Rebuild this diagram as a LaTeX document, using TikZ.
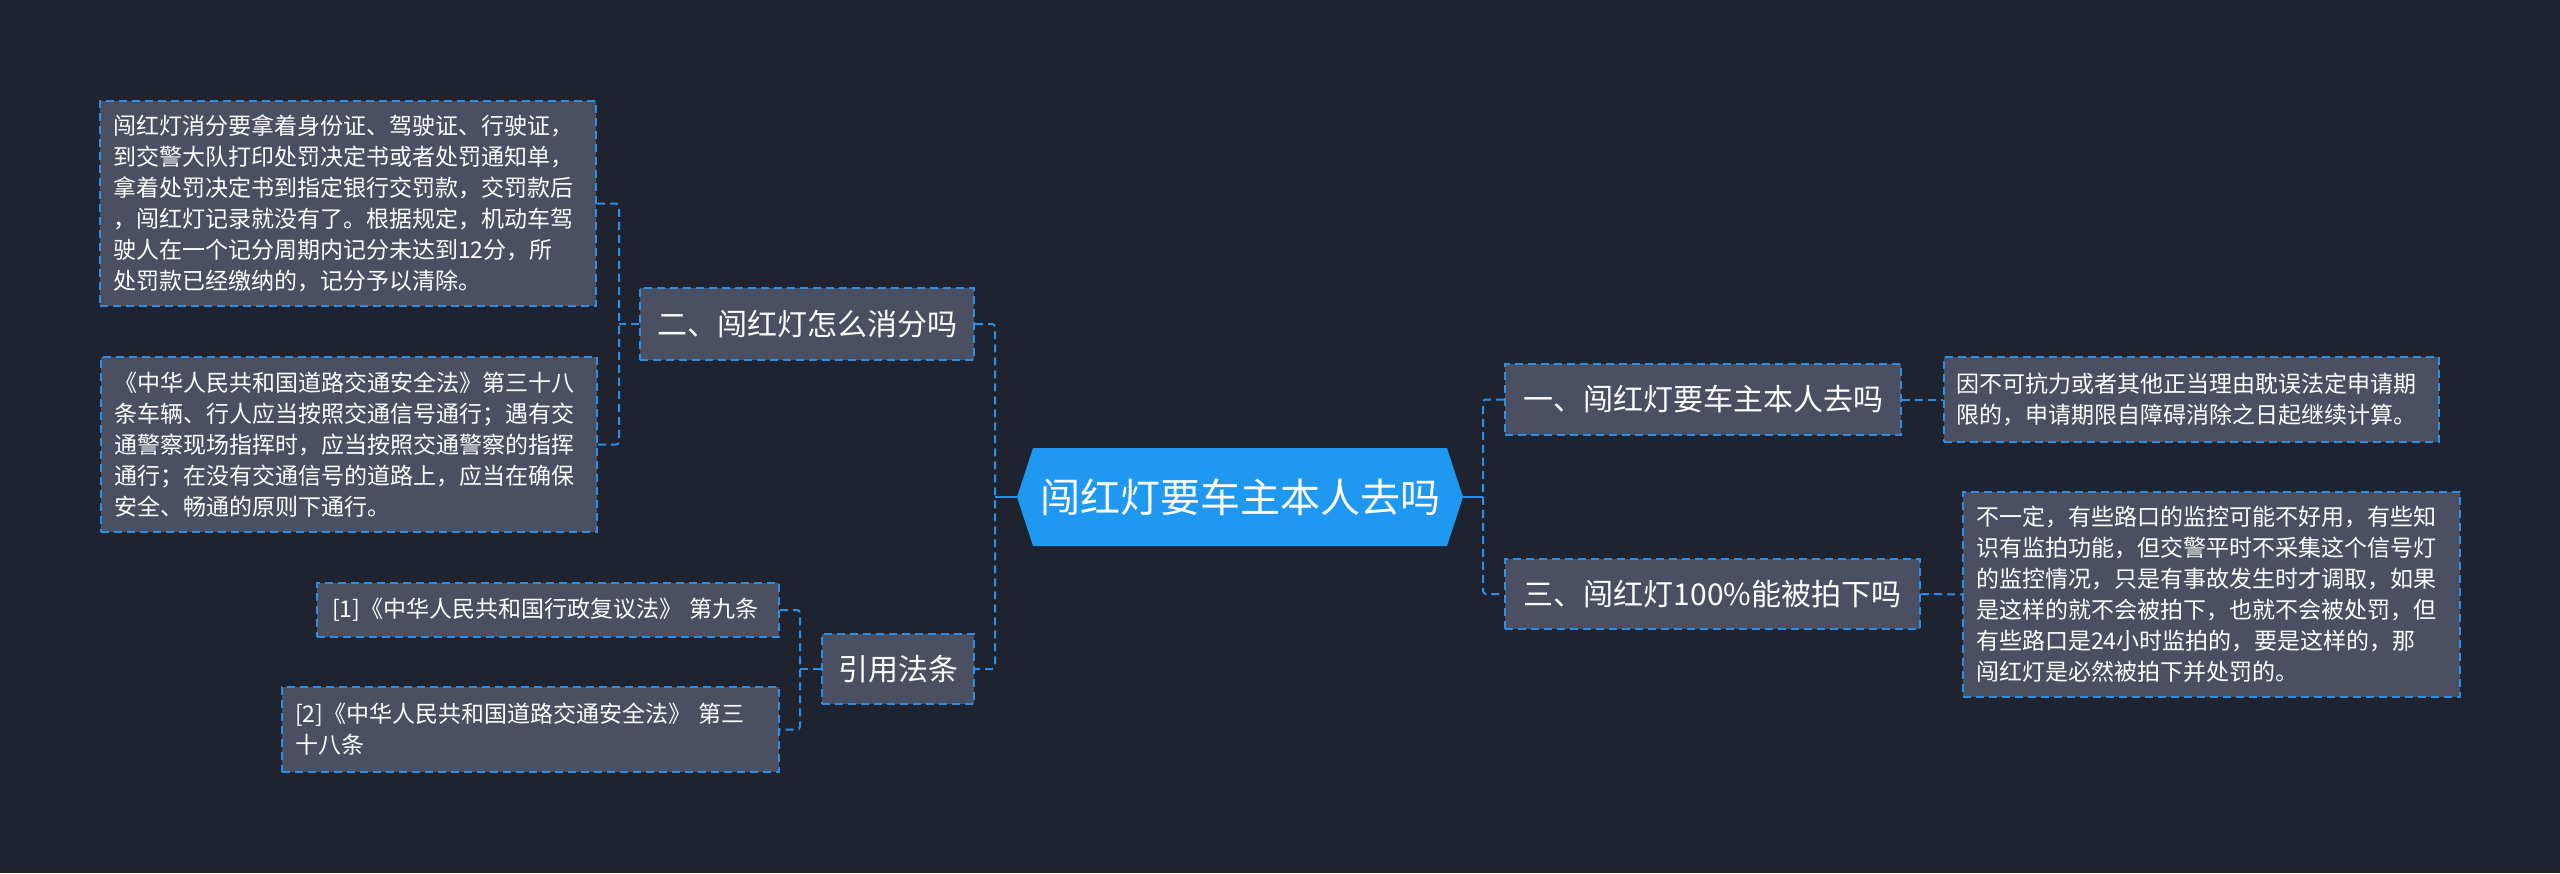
\documentclass[tikz,border=0pt]{standalone}
\usepackage{fontspec}
\setmainfont{Noto Sans CJK SC}
\definecolor{bgc}{HTML}{1F2330}
\definecolor{boxfill}{HTML}{4A5061}
\definecolor{lineblue}{HTML}{2A8FE6}
\definecolor{rootblue}{HTML}{1E98F0}
\tikzset{
  conn/.style={draw=lineblue, line width=2pt, dash pattern=on 8pt off 5pt, rounded corners=3pt},
  solidconn/.style={draw=lineblue, line width=2pt},
  detail/.style={draw=lineblue, line width=2pt, dash pattern=on 8pt off 5pt, fill=boxfill,
    text=white, align=left, inner xsep=13pt, inner ysep=0pt, font=\fontsize{23}{31}\selectfont},
  topic/.style={draw=lineblue, line width=2pt, dash pattern=on 8pt off 5pt, fill=boxfill,
    text=white, align=center, inner sep=0pt, font=\fontsize{30}{36}\selectfont},
  rootnode/.style={text=white, inner sep=0pt, font=\fontsize{40}{48}\selectfont}
}
\begin{document}
\begin{tikzpicture}[x=1pt,y=-1pt]
\fill[bgc] (0,0) rectangle (2560,873);
\useasboundingbox (0,0) rectangle (2560,873);

% root
\fill[rootblue] (1017,497) -- (1033,448) -- (1447,448) -- (1463,497) -- (1447,546) -- (1033,546) -- cycle;
\node[rootnode, minimum width=446pt, minimum height=98pt] (root) at (1240,497) {闯红灯要车主本人去吗};

% topics
\node[topic, minimum width=334pt, minimum height=72pt] (er) at (807,324) {二、闯红灯怎么消分吗};
\node[topic, minimum width=152pt, minimum height=70pt] (cite) at (898,669) {引用法条};
\node[topic, minimum width=396pt, minimum height=71pt] (one) at (1703,399.5) {一、闯红灯要车主本人去吗};
\node[topic, minimum width=415pt, minimum height=70pt] (three) at (1712.5,594) {三、闯红灯100\%能被拍下吗};

% details
\node[detail, text width=470pt, minimum height=205pt] (A) at (348,203.5) {闯红灯消分要拿着身份证、驾驶证、行驶证，\\
到交警大队打印处罚决定书或者处罚通知单，\\
拿着处罚决定书到指定银行交罚款，交罚款后\\
，闯红灯记录就没有了。根据规定，机动车驾\\
驶人在一个记分周期内记分未达到12分，所\\
处罚款已经缴纳的，记分予以清除。};
\node[detail, text width=470pt, minimum height=175pt] (B) at (349,444.5) {《中华人民共和国道路交通安全法》第三十八\\
条车辆、行人应当按照交通信号通行；遇有交\\
通警察现场指挥时，应当按照交通警察的指挥\\
通行；在没有交通信号的道路上，应当在确保\\
安全、畅通的原则下通行。};
\node[detail, text width=471pt, inner xsep=12pt, minimum height=85pt] (C) at (2191.5,399.5) {因不可抗力或者其他正当理由耽误法定申请期\\
限的，申请期限自障碍消除之日起继续计算。};
\node[detail, text width=471pt, minimum height=205pt] (D) at (2211.5,594.5) {不一定，有些路口的监控可能不好用，有些知\\
识有监拍功能，但交警平时不采集这个信号灯\\
的监控情况，只是有事故发生时才调取，如果\\
是这样的就不会被拍下，也就不会被处罚，但\\
有些路口是24小时监拍的，要是这样的，那\\
闯红灯是必然被拍下并处罚的。};
\node[detail, text width=432pt, inner xsep=15pt, minimum height=54pt] (c1) at (548,610) {[1]《中华人民共和国行政复议法》 第九条};
\node[detail, text width=471pt, minimum height=85pt] (c2) at (530.5,729.5) {[2]《中华人民共和国道路交通安全法》 第三\\
十八条};

% trunk coordinates
\coordinate (tL1) at (619,324);
\coordinate (tL0) at (995,497);
\coordinate (tC) at (800,669);
\coordinate (tR) at (1483,497);

% connectors
\draw[conn] (A.east) -| (tL1) |- (B.east);
\draw[conn] (er.west) -- (tL1);
\draw[conn] (er.east) -| (tL0) |- (cite.east);
\draw[solidconn] (root.west) -- (tL0);
\draw[conn] (c1.east) -| (tC) |- (c2.east);
\draw[conn] (cite.west) -- (tC);
\draw[conn] (one.west) -| (tR) |- (three.west);
\draw[solidconn] (root.east) -- (tR);
\draw[conn] (one.east) -- (C.west);
\draw[conn] (three.east) -- (D.west);
\end{tikzpicture}
\end{document}
